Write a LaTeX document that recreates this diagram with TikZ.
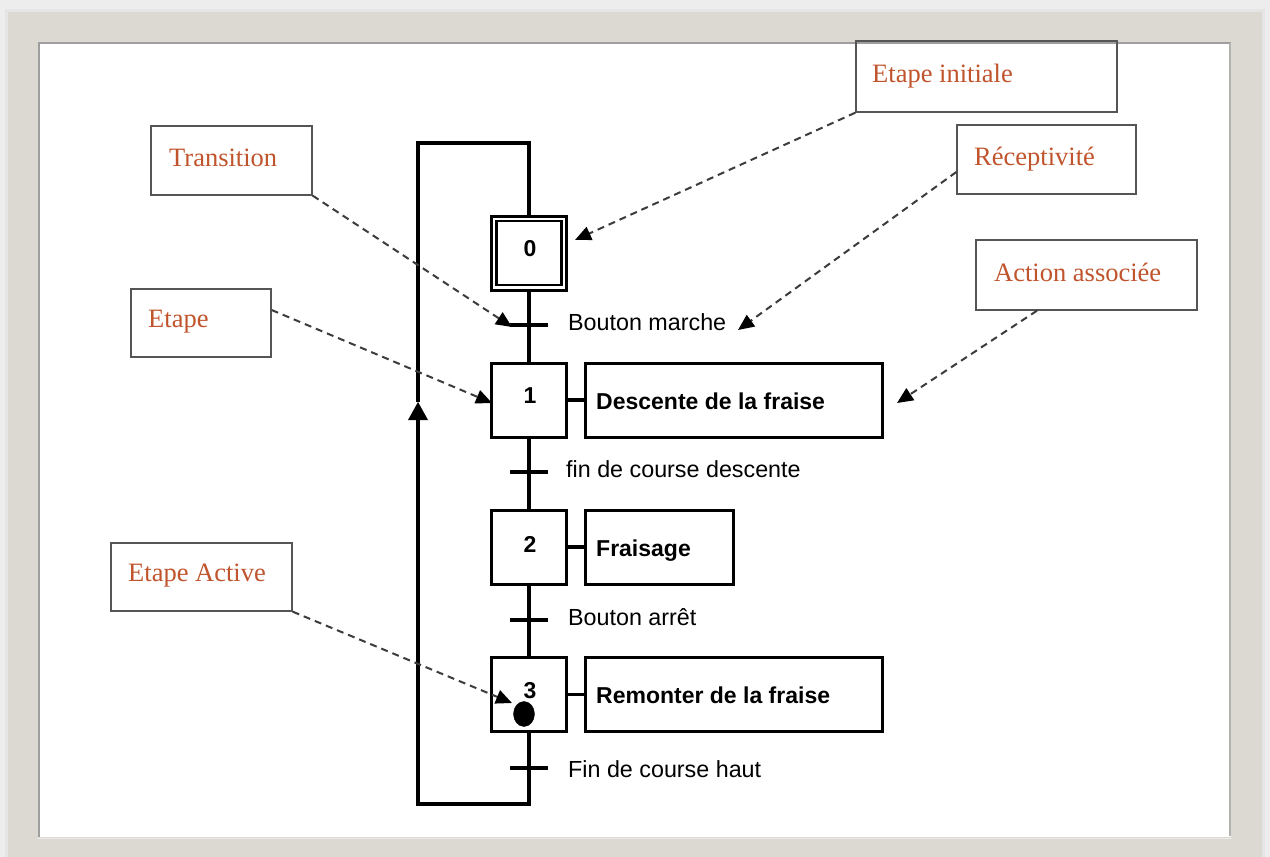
\documentclass[tikz,border=0pt]{standalone}
\usepackage{fontspec}
\setmainfont{Liberation Serif}
\newfontfamily\arialfont{Liberation Sans}
\usetikzlibrary{arrows.meta,shapes.geometric}
\definecolor{framegray}{HTML}{DCD9D2}
\definecolor{outergray}{HTML}{EDEDED}
\definecolor{labelorange}{HTML}{C0542C}
\definecolor{boxgray}{HTML}{555555}
\definecolor{dashgray}{HTML}{3C3C3C}
\tikzset{
  x=1pt, y=-1pt,
  wire/.style={line width=3.4pt, black},
  stepbox/.style={draw, line width=3pt, minimum width=75pt, minimum height=74pt, inner sep=0pt},
  actbox/.style={draw, line width=3pt, minimum height=74pt, inner sep=0pt},
  trans/.style={fill=black, minimum width=38pt, minimum height=3.6pt, inner sep=0pt},
  num/.style={font=\arialfont\bfseries\fontsize{23}{27}\selectfont, inner sep=0pt, anchor=base},
  acttext/.style={font=\arialfont\bfseries\fontsize{23}{27}\selectfont, inner sep=0pt, anchor=base west},
  rectext/.style={font=\arialfont\fontsize{23.3}{27}\selectfont, inner sep=0pt, anchor=base west},
  notebox/.style={draw=boxgray, line width=1.3pt, inner sep=0pt},
  notetext/.style={text=labelorange, font=\fontsize{26.5}{30}\selectfont, inner sep=0pt, anchor=base west},
  pointer/.style={draw=dashgray, line width=2pt, dash pattern=on 7pt off 5pt,
    -{Triangle[length=16pt, width=14pt, color=black]}},
}
\begin{document}
\begin{tikzpicture}
\useasboundingbox (0,0) rectangle (1270,857);

% frame and paper
\fill[outergray] (0,0) rectangle (1270,857);
\fill[black!10] (5,9) rectangle (1265,857);
\fill[framegray] (8,12) rectangle (1262,857);
\fill[white] (38,42) rectangle (1231,837);
\draw[black!38, line width=1.5pt] (39,837) -- (39,43) -- (1231,43);
\draw[black!30, line width=1.5pt] (1230,43) -- (1230,836);
\draw[black!8, line width=1pt] (37,838) -- (1232,838);

% steps
\node[stepbox] (s0) at (529,253) {};
\node[draw, line width=2.6pt, minimum width=65pt, minimum height=64pt, inner sep=0pt] (s0in) at (529,253) {};
\node[num] (n0) at (530,256) {0};
\node[stepbox] (s1) at (529,400) {};
\node[num] (n1) at (530,403) {1};
\node[stepbox] (s2) at (529,547) {};
\node[num] (n2) at (530,552) {2};
\node[stepbox] (s3) at (529,694.5) {};
\node[num] (n3) at (530,698) {3};
\node[draw, fill=black, ellipse, minimum width=21pt, minimum height=25pt, inner sep=0pt] (tok) at (524,714) {};

% actions
\node[actbox, minimum width=297pt] (a1) at (733.5,400) {};
\node[acttext] (ta1) at (596,409) {Descente de la fraise};
\node[actbox, minimum width=148pt] (a2) at (659,547) {};
\node[acttext] (ta2) at (596,556) {Fraisage};
\node[actbox, minimum width=297pt] (a3) at (733.5,694.5) {};
\node[acttext] (ta3) at (596,703) {Remonter de la fraise};
\draw[wire] (s1.east) -- (a1.west);
\draw[wire] (s2.east) -- (a2.west);
\draw[wire] (s3.east) -- (a3.west);

% transitions and receptivities
\node[trans] (t1) at (529,325) {};
\node[rectext] (r1) at (568,330) {Bouton marche};
\node[trans] (t2) at (529,472) {};
\node[rectext] (r2) at (566,477) {fin de course descente};
\node[trans] (t3) at (529,620) {};
\node[rectext] (r3) at (568,625) {Bouton arrêt};
\node[trans] (t4) at (529,768) {};
\node[rectext] (r4) at (568,777) {Fin de course haut};

% links between steps
\draw[wire] (s0.south) -- (s1.north);
\draw[wire] (s1.south) -- (s2.north);
\draw[wire] (s2.south) -- (s3.north);

% return loop
\coordinate (lb) at (529,804);
\coordinate (ll) at (418,804);
\coordinate (la) at (418,402);
\coordinate (lt) at (418,143);
\coordinate (rt) at (529,143);
\draw[wire] (s3.south) -- (lb) -- (ll) -- ([yshift=-10pt]la);
\draw[wire, line cap=butt] (la) -- (lt) -- (rt) -- (s0.north);
\fill[black] (la) -- (408,420) -- (428,420) -- cycle;

% annotation boxes
\node[notebox, minimum width=261pt, minimum height=71pt] (bInit) at (986.5,76.5) {};
\node[notetext] (lInit) at (872,82) {Etape initiale};
\node[notebox, minimum width=161pt, minimum height=69pt] (bTrans) at (231.5,160.5) {};
\node[notetext] (lTrans) at (169,166) {Transition};
\node[notebox, minimum width=179pt, minimum height=69pt] (bRec) at (1046.5,159.5) {};
\node[notetext] (lRec) at (974,165) {Réceptivité};
\node[notebox, minimum width=221pt, minimum height=70pt] (bAct) at (1086.5,275) {};
\node[notetext] (lAct) at (994,281) {Action associée};
\node[notebox, minimum width=140pt, minimum height=68pt] (bEtape) at (201,323) {};
\node[notetext] (lEtape) at (148,327) {Etape};
\node[notebox, minimum width=181pt, minimum height=68pt] (bActive) at (201.5,577) {};
\node[notetext] (lActive) at (128,581) {Etape Active};

% pointer ends
\coordinate (pInit) at (575,240);
\coordinate (pTrans) at (512,327);
\coordinate (pRec) at (738,330);
\coordinate (pAct) at (897,403);
\coordinate (pEtape) at (492,403);
\coordinate (pActive) at (512,703);

\draw[pointer] (bInit.south west) -- (pInit);
\draw[pointer] (bTrans.south east) -- (pTrans);
\draw[pointer] ([yshift=-12.5pt]bRec.west) -- (pRec);
\draw[pointer] ([xshift=-49.5pt]bAct.south) -- (pAct);
\draw[pointer] ([yshift=13pt]bEtape.east) -- (pEtape);
\draw[pointer] (bActive.south east) -- (pActive);
\end{tikzpicture}
\end{document}
